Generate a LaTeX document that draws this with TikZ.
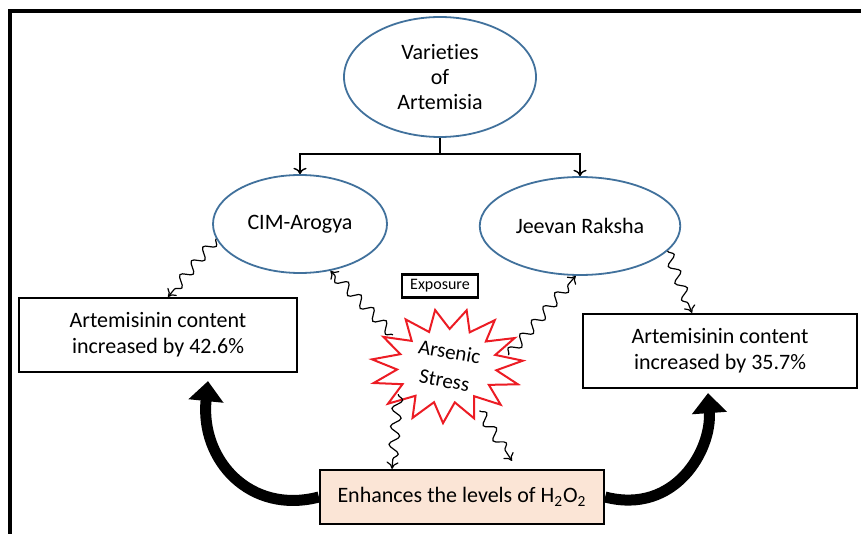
\documentclass[tikz,border=0pt]{standalone}
\usepackage{fontspec}
\setmainfont{Carlito}[Ligatures=NoCommon]
\usetikzlibrary{shapes.geometric,arrows.meta,decorations.pathmorphing,positioning}
\definecolor{ovalblue}{RGB}{65,113,156}
\definecolor{peach}{RGB}{251,229,214}
\definecolor{starred}{RGB}{236,28,36}

\begin{document}
\begin{tikzpicture}[x=0.5pt,y=-0.5pt,
    oval/.style={ellipse,draw=ovalblue,line width=0.9pt,align=center,
                 font=\fontsize{11}{12.7}\selectfont},
    resultbox/.style={draw,line width=1.1pt,align=center,minimum height=37pt,
                 font=\fontsize{11}{13}\selectfont},
    snakeline/.style={-{To[length=3.5pt,width=6pt]},line width=0.6pt,decorate,
                 decoration={snake,amplitude=2.5pt,segment length=9pt,post length=3pt}},
    bigarrow/.style={line width=5.5pt,-{Triangle[length=10pt,width=17pt]}}]
        \useasboundingbox (0,0) rectangle (861,534);
        % frame
        \draw[line width=2pt] (10,534) -- (10,11) -- (861,11);
        % the three varieties
        \node[oval,minimum width=96pt,minimum height=60pt] (varieties) at (440,77) {Varieties\\of\\Artemisia};
        \node[oval,minimum width=87pt,minimum height=49pt] (cim)    at (300,224) {CIM-Arogya};
        \node[oval,minimum width=87pt,minimum height=49pt] (jeevan) at (580,226) {Jeevan Raksha};
        % result boxes
        \node[resultbox,minimum width=139pt] (left)  at (158,335) {Artemisinin content\\increased by 42.6\%};
        \node[resultbox,minimum width=137pt] (right) at (720,351) {Artemisinin content\\increased by 35.7\%};
        \node[draw,line width=1.1pt,fill=peach,minimum width=142pt,minimum height=27pt,
              font=\fontsize{11}{13}\selectfont] (enh) at (462,497) {Enhances the levels of H\textsubscript{2}O\textsubscript{2}};
        \node[draw,line width=1.1pt,minimum width=38pt,minimum height=11.5pt,inner sep=1pt,
              font=\fontsize{8}{9}\selectfont] (exposure) at (440,286) {Exposure};
        % arsenic stress star
        \node[ellipse,minimum width=65pt,minimum height=48pt,inner sep=0pt,align=center,rotate=-10,
              font=\fontsize{10.5}{14.5}\selectfont] (stress) at (447,366) {Arsenic\\Stress};
        \begin{scope}[shift={(447,366)},rotate=4]
          \draw[starred,line width=1pt,line join=miter]
            (0:76 and 57) \foreach \k in {0,...,14} { -- (\k*24:76 and 57) -- (\k*24+12:50 and 37) } -- cycle;
        \end{scope}
        % tree connectors
        \draw[->,line width=0.7pt] (varieties.south) -- ++(0,16) -| (cim.north);
        \draw[->,line width=0.7pt] (varieties.south) -- ++(0,16) -| (jeevan.north);
        % wavy connectors
        \draw[snakeline] (cim.190) -- ([xshift=5pt]left.north);
        \draw[snakeline] (stress.160) -- (cim.-57);
        \draw[snakeline] (stress.20) -- (jeevan.-95);
        \draw[snakeline] (jeevan.-16) -- ([xshift=-14pt]right.north);
        \draw[snakeline] (stress.-140) -- ([xshift=-35pt]enh.north);
        \draw[snakeline] (stress.-44) -- ([xshift=25pt,yshift=4pt]enh.north);
        % feedback arrows
        \draw[bigarrow] (enh.west) .. controls (250,515) and (200,460) .. ([xshift=25pt,yshift=-4pt]left.south);
        \draw[bigarrow] (enh.east) .. controls (675,515) and (712,450) .. ([xshift=-6pt,yshift=-2pt]right.south);
\end{tikzpicture}
\end{document}
